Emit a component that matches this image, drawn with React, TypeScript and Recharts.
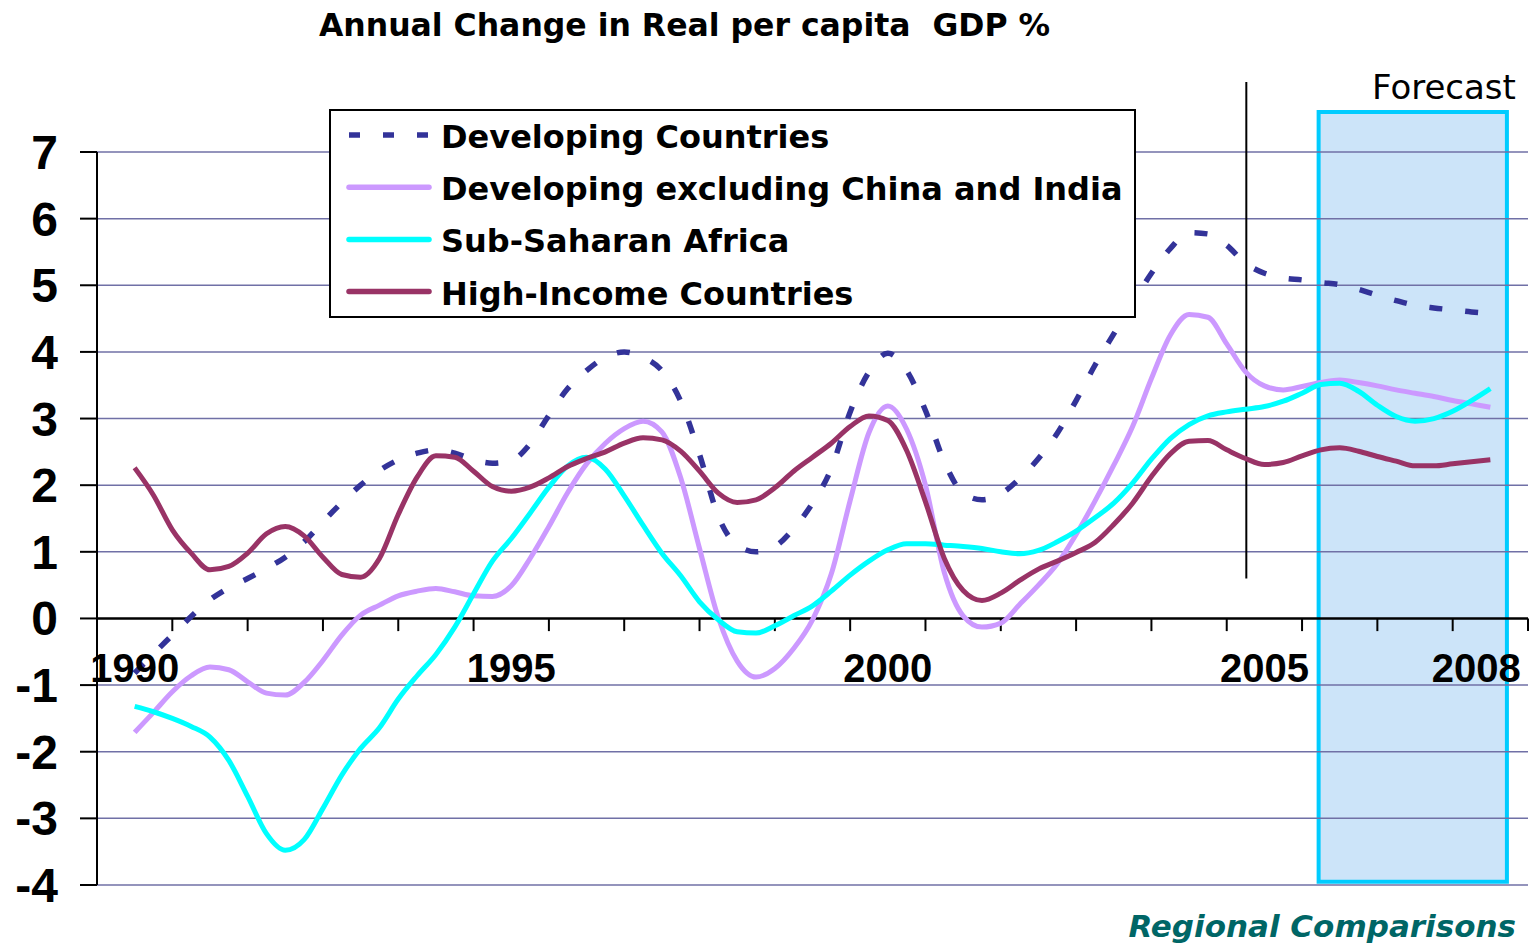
import React from 'react';
import {
  LineChart,
  Line,
  XAxis,
  YAxis,
  ReferenceLine,
  ReferenceArea,
  ReferenceDot,
  Legend,
} from 'recharts';

// ---------- data ----------
const quarters = [
  1990, 1990.25, 1990.5, 1990.75, 1991, 1991.25, 1991.5, 1991.75, 1992, 1992.25, 1992.5, 1992.75,
  1993, 1993.25, 1993.5, 1993.75, 1994, 1994.25, 1994.5, 1994.75, 1995, 1995.25, 1995.5, 1995.75,
  1996, 1996.25, 1996.5, 1996.75, 1997, 1997.25, 1997.5, 1997.75, 1998, 1998.25, 1998.5, 1998.75,
  1999, 1999.25, 1999.5, 1999.75, 2000, 2000.25, 2000.5, 2000.75, 2001, 2001.25, 2001.5, 2001.75,
  2002, 2002.25, 2002.5, 2002.75, 2003, 2003.25, 2003.5, 2003.75, 2004, 2004.25, 2004.5, 2004.75,
  2005, 2005.25, 2005.5, 2005.75, 2006, 2006.25, 2006.5, 2006.75, 2007, 2007.25, 2007.5, 2007.75,
  2008,
];

const developing = [
  -0.82, -0.53, -0.25, 0.03, 0.28, 0.46, 0.6, 0.75, 0.92, 1.15, 1.45, 1.74,
  2.0, 2.22, 2.38, 2.48, 2.53, 2.48, 2.38, 2.33, 2.37, 2.62, 3.05, 3.45,
  3.72, 3.92, 4.0, 3.92, 3.72, 3.26, 2.46, 1.53, 1.1, 1.0, 1.08, 1.35,
  1.73, 2.25, 3.1, 3.7, 3.98, 3.72, 3.12, 2.35, 1.88, 1.78, 1.87, 2.1,
  2.4, 2.78, 3.27, 3.8, 4.27, 4.73, 5.18, 5.55, 5.79, 5.77, 5.6, 5.33,
  5.18, 5.11, 5.08, 5.04, 5.01, 4.94, 4.85, 4.77, 4.7, 4.66, 4.63, 4.6,
  4.58,
];

const developingExChinaIndia = [
  -1.71, -1.41, -1.1, -0.86, -0.73, -0.77, -0.95, -1.12, -1.15, -0.96, -0.63, -0.25,
  0.05, 0.2, 0.34, 0.41, 0.45, 0.4, 0.34, 0.33, 0.49, 0.9, 1.38, 1.89,
  2.32, 2.63, 2.85, 2.96, 2.8, 2.11, 1.05, 0.01, -0.64, -0.88, -0.75, -0.45,
  -0.02, 0.67, 1.77, 2.79, 3.19, 2.84, 2.0, 0.69, 0.04, -0.13, -0.07, 0.21,
  0.5, 0.82, 1.26, 1.76, 2.3, 2.88, 3.6, 4.25, 4.56, 4.52, 4.12, 3.7,
  3.49, 3.43, 3.48, 3.54, 3.58, 3.54, 3.49, 3.43, 3.38, 3.33, 3.27, 3.22,
  3.17,
];

const subSaharanAfrica = [
  -1.32, -1.4, -1.5, -1.62, -1.78, -2.13, -2.67, -3.23, -3.48, -3.32, -2.85, -2.35,
  -1.95, -1.64, -1.21, -0.86, -0.54, -0.13, 0.37, 0.86, 1.2, 1.58, 1.97, 2.29,
  2.42, 2.24, 1.84, 1.4, 0.98, 0.64, 0.25, -0.02, -0.2, -0.22, -0.11, 0.04,
  0.19, 0.41, 0.65, 0.86, 1.03, 1.12, 1.12, 1.1, 1.08, 1.05, 1.0, 0.97,
  1.02, 1.15, 1.31, 1.51, 1.73, 2.03, 2.39, 2.7, 2.91, 3.04, 3.1, 3.14,
  3.18, 3.26, 3.38, 3.51, 3.53, 3.41, 3.2, 3.03, 2.96, 3.0, 3.11, 3.27,
  3.45,
];

const highIncome = [
  2.26, 1.85, 1.33, 0.98, 0.73, 0.78, 0.98, 1.27, 1.38, 1.24, 0.92, 0.66,
  0.62, 0.9, 1.56, 2.12, 2.44, 2.42, 2.21, 1.98, 1.91, 1.97, 2.11, 2.28,
  2.4, 2.5, 2.63, 2.71, 2.68, 2.51, 2.21, 1.88, 1.74, 1.78, 1.96, 2.21,
  2.42, 2.63, 2.88, 3.04, 2.97, 2.52, 1.75, 0.9, 0.42, 0.27, 0.38, 0.57,
  0.74, 0.86, 0.99, 1.14, 1.41, 1.73, 2.13, 2.47, 2.66, 2.67, 2.53, 2.4,
  2.31, 2.34, 2.44, 2.53, 2.56, 2.51, 2.43, 2.36, 2.29, 2.29, 2.32, 2.35,
  2.38,
];

const yTicks = [-4, -3, -2, -1, 0, 1, 2, 3, 4, 5, 6, 7];
const yearBoundaries = [
  1989.5, 1990.5, 1991.5, 1992.5, 1993.5, 1994.5, 1995.5, 1996.5, 1997.5, 1998.5,
  1999.5, 2000.5, 2001.5, 2002.5, 2003.5, 2004.5, 2005.5, 2006.5, 2007.5, 2008.5,
];
const yearLabels = [1990, 1995, 2000, 2005, 2008];

const forecastStart = 2005.72;
const forecastEnd = 2008.22;
const forecastTop = 7.6;
const forecastBottom = -3.95;
const dividerYear = 2004.76;
const dividerLow = 0.6;
const dividerHigh = 8.05;

// ---------- style ----------
const NUM_FONT = '"Liberation Sans", Arial, sans-serif';
const TXT_FONT = '"DejaVu Sans", Verdana, sans-serif';
const GRID = '#7070a6';

const series = [
  { key: 'developing', name: 'Developing Countries', color: '#333399', dash: '13 23', legendDash: '11 23', width: 5.5 },
  { key: 'developingEx', name: 'Developing excluding China and India', color: '#cc99ff', dash: undefined, legendDash: undefined, width: 5 },
  { key: 'ssa', name: 'Sub-Saharan Africa', color: '#00ffff', dash: undefined, legendDash: undefined, width: 5 },
  { key: 'highIncome', name: 'High-Income Countries', color: '#993366', dash: undefined, legendDash: undefined, width: 5 },
];

const data = quarters.map((q, i) => ({
  year: q,
  developing: developing[i],
  developingEx: developingExChinaIndia[i],
  ssa: subSaharanAfrica[i],
  highIncome: highIncome[i],
}));

const PlacedText = (props: any) => {
  const {
    viewBox,
    text,
    dx = 0,
    dy = 0,
    anchor = 'middle',
    size = 40,
    weight = 'bold',
    family = NUM_FONT,
    color = '#000',
  } = props;
  if (!viewBox) return null;
  const x = viewBox.x + (viewBox.width || 0) / 2 + dx;
  const y = viewBox.y + (viewBox.height || 0) / 2 + dy;
  return (
    <text x={x} y={y} textAnchor={anchor} fontSize={size} fontWeight={weight} fontFamily={family} fill={color}>
      {text}
    </text>
  );
};

const LegendBox = () => (
  <div
    style={{
      width: 807,
      height: 209,
      boxSizing: 'border-box',
      border: '2px solid #000',
      background: '#fff',
    }}
  >
    <svg width={803} height={205} style={{ display: 'block' }}>
      {series.map((s, i) => {
        const cy = 24 + i * 52.2;
        return (
          <g key={s.key}>
            {s.legendDash ? (
              <line x1={18} x2={98} y1={cy} y2={cy} stroke={s.color} strokeWidth={5.5} strokeDasharray={s.legendDash} />
            ) : (
              <line x1={18} x2={98} y1={cy} y2={cy} stroke={s.color} strokeWidth={5.5} strokeLinecap="round" />
            )}
            <text x={110} y={cy + 13} fontFamily={TXT_FONT} fontWeight="bold" fontSize={32} fill="#000">
              {s.name}
            </text>
          </g>
        );
      })}
    </svg>
  </div>
);

export default function App() {
  return (
    <div style={{ position: 'relative', width: 1537, height: 947, background: '#fff' }}>
      <style>{'body{margin:0;overflow:hidden;}'}</style>
      <LineChart width={1537} height={947} data={data} margin={{ top: 152, right: 9, bottom: 62, left: 17 }}>
        <ReferenceArea
          x1={forecastStart}
          x2={forecastEnd}
          y1={forecastBottom}
          y2={forecastTop}
          fill="#cce4f9"
          fillOpacity={1}
          stroke="#00ccff"
          strokeWidth={4}
          ifOverflow="visible"
        />
        {yTicks
          .filter((v) => v !== 0)
          .map((v) => (
            <ReferenceLine key={'g' + v} y={v} stroke={GRID} strokeWidth={1.5} />
          ))}
        <XAxis dataKey="year" type="number" domain={[1989.5, 2008.5]} hide />
        <YAxis
          type="number"
          domain={[-4, 7]}
          ticks={yTicks}
          interval={0}
          width={80}
          tickSize={17}
          tickMargin={22}
          axisLine={{ stroke: '#000', strokeWidth: 2 }}
          tickLine={{ stroke: '#000', strokeWidth: 2 }}
          tick={{ fill: '#000', fontSize: 48, fontWeight: 'bold', fontFamily: NUM_FONT }}
        />
        <ReferenceLine y={0} stroke="#000" strokeWidth={2.5} />
        {yearBoundaries.map((b) => (
          <ReferenceLine
            key={'t' + b}
            segment={[
              { x: b, y: 0 },
              { x: b, y: -0.19 },
            ]}
            stroke="#000"
            strokeWidth={2}
          />
        ))}
        {yearLabels.map((yr) => (
          <ReferenceDot
            key={'l' + yr}
            x={yr}
            y={-0.75}
            r={0}
            fill="none"
            stroke="none"
            label={<PlacedText text={String(yr)} dx={yr === 2008 ? -14 : 0} dy={14} size={40} />}
          />
        ))}
        <ReferenceLine
          segment={[
            { x: dividerYear, y: dividerLow },
            { x: dividerYear, y: dividerHigh },
          ]}
          stroke="#000"
          strokeWidth={2}
          ifOverflow="visible"
        />
        <ReferenceDot
          x={forecastEnd}
          y={forecastTop}
          r={0}
          fill="none"
          stroke="none"
          ifOverflow="visible"
          label={<PlacedText text="Forecast" anchor="end" dx={9} dy={-13} size={34} weight="normal" family={TXT_FONT} />}
        />
        {series.map((s) => (
          <Line
            key={s.key}
            dataKey={s.key}
            name={s.name}
            type="monotone"
            stroke={s.color}
            strokeWidth={s.width}
            strokeDasharray={s.dash}
            strokeLinejoin="round"
            dot={false}
            activeDot={false}
            isAnimationActive={false}
          />
        ))}
        <Legend
          layout="vertical"
          align="center"
          verticalAlign="middle"
          wrapperStyle={{ left: 329, top: 109, width: 807, height: 209 }}
          content={<LegendBox />}
        />
      </LineChart>
      <svg
        width={1537}
        height={947}
        style={{ position: 'absolute', left: 0, top: 0, pointerEvents: 'none' }}
      >
        <text
          x={684.5}
          y={36}
          textAnchor="middle"
          fontFamily={TXT_FONT}
          fontWeight="bold"
          fontSize={31.5}
          fill="#000"
          style={{ whiteSpace: 'pre' }}
        >
          {'Annual Change in Real per capita  GDP %'}
        </text>
        <text
          x={1516}
          y={937}
          textAnchor="end"
          fontFamily={TXT_FONT}
          fontWeight="bold"
          fontStyle="italic"
          fontSize={31}
          fill="#006666"
        >
          Regional Comparisons
        </text>
      </svg>
    </div>
  );
}
